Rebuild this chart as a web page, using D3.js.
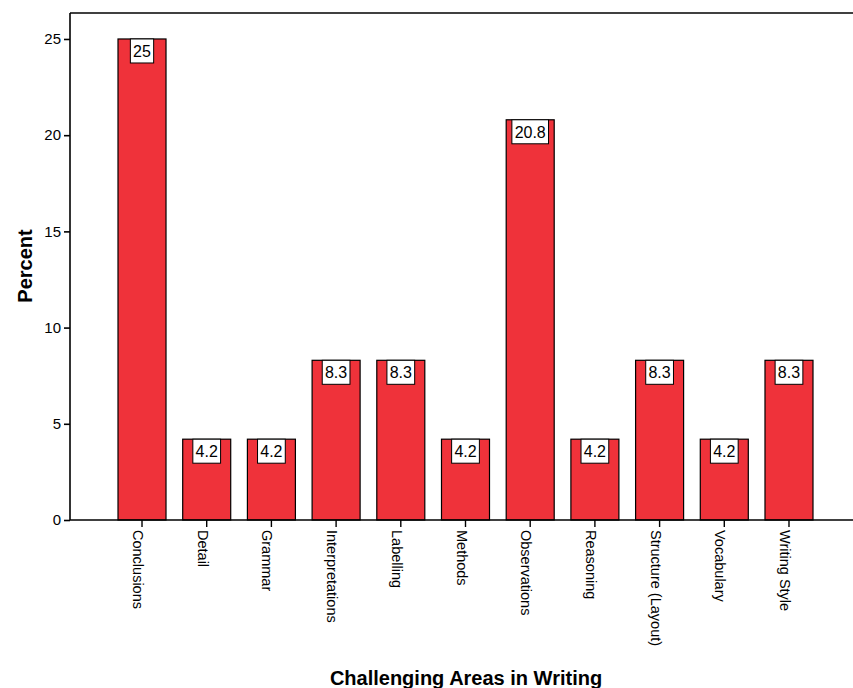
<!DOCTYPE html>
<html>
<head>
<meta charset="utf-8">
<script src="https://cdn.jsdelivr.net/npm/d3@7"></script>
<style>
  html, body { margin: 0; padding: 0; background: #fff; overflow: hidden; }
  svg { display: block; font-family: "Liberation Sans", Arial, sans-serif; }
</style>
</head>
<body>
<svg id="chart" width="853" height="688"></svg>
<script>
const categories = ["Conclusions", "Detail", "Grammar", "Interpretations", "Labelling", "Methods",
  "Observations", "Reasoning", "Structure (Layout)", "Vocabulary", "Writing Style"];
const percents = [25, 4.2, 4.2, 8.3, 8.3, 4.2, 20.8, 4.2, 8.3, 4.2, 8.3];
const valueLabels = ["25", "4.2", "4.2", "8.3", "8.3", "4.2", "20.8", "4.2", "8.3", "4.2", "8.3"];
const yTicks = [0, 5, 10, 15, 20, 25];
const xTitle = "Challenging Areas in Writing";
const yTitle = "Percent";

(function () {
const svg = d3.select("#chart");
const pLeft = 70, pRight = 861, pTop = 13, pBottom = 520;

const x = d3.scaleBand().domain(categories).range([pLeft, pRight])
  .paddingInner(0.258).paddingOuter(0.742);
const y = d3.scaleLinear().domain([0, 26.35]).range([pBottom, pTop]);

// bars
svg.append("g").selectAll("rect").data(categories).join("rect")
  .attr("x", d => x(d))
  .attr("y", (d, i) => y(percents[i]))
  .attr("width", x.bandwidth())
  .attr("height", (d, i) => y(0) - y(percents[i]))
  .attr("fill", "#ef323a")
  .attr("stroke", "#000")
  .attr("stroke-width", 1.2);

// frame top line
svg.append("line").attr("x1", pLeft).attr("x2", 900).attr("y1", pTop).attr("y2", pTop)
  .attr("stroke", "#000").attr("stroke-width", 1.6);

// y axis
const yAxis = d3.axisLeft(y).tickValues(yTicks).tickSize(6).tickPadding(3).tickFormat(d3.format("d"));
const gy = svg.append("g").attr("transform", `translate(${pLeft},0)`).call(yAxis);
gy.attr("font-size", null).attr("font-family", null);
gy.select(".domain").attr("d", `M0,${pTop}V${pBottom}`).attr("stroke-width", 1.6);
gy.selectAll(".tick line").attr("stroke-width", 1.6);
gy.selectAll(".tick text").style("font-size", "15px").attr("fill", "#000");

// x axis
const xAxis = d3.axisBottom(x).tickSize(7).tickFormat("");
const gx = svg.append("g").attr("transform", `translate(0,${pBottom})`).call(xAxis);
gx.select(".domain").attr("d", `M${pLeft},0H900`).attr("stroke-width", 1.6);
gx.selectAll(".tick line").attr("stroke-width", 1.4);

// x tick labels rotated
svg.append("g").selectAll("text").data(categories).join("text")
  .attr("transform", d => `translate(${x(d) + x.bandwidth() / 2},${pBottom + 10}) rotate(90)`)
  .attr("dy", "9px")
  .attr("text-anchor", "start")
  .attr("font-size", "14.5px")
  .attr("fill", "#000")
  .text(d => d);

// value labels
const lab = svg.append("g").selectAll("g").data(categories).join("g");
lab.each(function (d, i) {
  const g = d3.select(this);
  const cx = x(d) + x.bandwidth() / 2;
  const ty = y(percents[i]);
  const t = g.append("text")
    .attr("x", cx).attr("y", ty + 18)
    .attr("text-anchor", "middle")
    .attr("font-size", "16px")
    .attr("fill", "#000")
    .text(valueLabels[i]);
  const w = t.node().getComputedTextLength() + 5.5;
  g.insert("rect", "text")
    .attr("x", cx - w / 2).attr("y", ty)
    .attr("width", w).attr("height", 24)
    .attr("fill", "#fff").attr("stroke", "#000").attr("stroke-width", 1);
});

// titles
svg.append("text")
  .attr("x", 466).attr("y", 685)
  .attr("text-anchor", "middle")
  .attr("font-size", "20px").attr("font-weight", "bold")
  .attr("fill", "#000")
  .text(xTitle);

svg.append("text")
  .attr("transform", `translate(32,266) rotate(-90)`)
  .attr("text-anchor", "middle")
  .attr("font-size", "20px").attr("font-weight", "bold")
  .attr("fill", "#000")
  .text(yTitle);
})();
</script>
</body>
</html>
